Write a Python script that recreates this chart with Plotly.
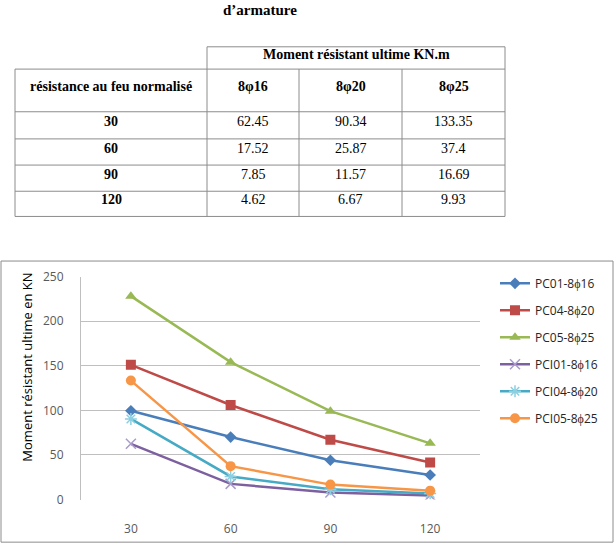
import plotly.graph_objects as go

W, H = 615, 555

# ---------------- data ----------------
title_fragment = "d’armature"
table_header = "Moment résistant ultime KN.m"
table_row_header = "résistance au feu normalisé"
table_cols = ["8φ16", "8φ20", "8φ25"]
table_rows = ["30", "60", "90", "120"]
table_col16 = [62.45, 17.52, 7.85, 4.62]
table_col20 = [90.34, 25.87, 11.57, 6.67]
table_col25 = [133.35, 37.4, 16.69, 9.93]

categories = ["30", "60", "90", "120"]
pc01_8f16 = [99.5, 70, 44, 27.5]
pc04_8f20 = [151, 106, 67, 41.5]
pc05_8f25 = [228, 154, 99, 63]
pci01_8f16 = [62.45, 17.52, 7.85, 4.62]
pci04_8f20 = [90.34, 25.87, 11.57, 6.67]
pci05_8f25 = [133.35, 37.4, 16.69, 9.93]
series_names = ["PC01-8ϕ16", "PC04-8ϕ20", "PC05-8ϕ25",
                "PCI01-8ϕ16", "PCI04-8ϕ20", "PCI05-8ϕ25"]
y_title = "Moment résistant ultime en KN"
y_ticks = [0, 50, 100, 150, 200, 250]


def px(x):
    return x / W


def py(y):
    return 1 - y / H


fig = go.Figure()

styles = [
    dict(color="#4A7EBB", symbol="diamond", size=9, mcolor="#4A7EBB", mline=0),
    dict(color="#BE4B48", symbol="square", size=10, mcolor="#BE4B48", mline=0),
    dict(color="#98B954", symbol="triangle-up", size=10, mcolor="#98B954", mline=0),
    dict(color="#7D60A0", symbol="x-thin-open", size=10, mcolor="#A99BCB", mline=1.5),
    dict(color="#46AAC5", symbol="asterisk-open", size=10, mcolor="#8CCFE0", mline=1.5),
    dict(color="#F79646", symbol="circle", size=10, mcolor="#F79646", mline=0),
]
series = [pc01_8f16, pc04_8f20, pc05_8f25, pci01_8f16, pci04_8f20, pci05_8f25]

for name, vals, st in zip(series_names, series, styles):
    fig.add_trace(go.Scatter(
        x=categories, y=vals, name=name, mode="lines+markers",
        legendgroup=name,
        line=dict(color=st["color"], width=2.5),
        marker=dict(symbol=st["symbol"], size=st["size"], color=st["mcolor"],
                    line=dict(width=st["mline"], color=st["mcolor"])),
    ))

shapes = []
annotations = []

# chart border
shapes.append(dict(type="rect", xref="paper", yref="paper",
                   x0=px(1), x1=px(613), y0=py(550), y1=py(260),
                   line=dict(color="#8C8C8C", width=1)))

# ---------------- table ----------------
tcol = "#8C8C8C"
col_x = [15, 207, 299, 402, 505]
row_y = [39, 62, 106, 134, 161, 188, 214]


def hline(x0, x1, y):
    shapes.append(dict(type="line", xref="paper", yref="paper",
                       x0=px(x0), x1=px(x1), y0=py(y), y1=py(y),
                       line=dict(color=tcol, width=1)))


def vline(x, y0, y1):
    shapes.append(dict(type="line", xref="paper", yref="paper",
                       x0=px(x), x1=px(x), y0=py(y0), y1=py(y1),
                       line=dict(color=tcol, width=1)))


hline(col_x[1], col_x[4], row_y[0])
for y in row_y[1:]:
    hline(col_x[0], col_x[4], y)
vline(col_x[0], row_y[1], row_y[-1])
vline(col_x[1], row_y[0], row_y[-1])
vline(col_x[4], row_y[0], row_y[-1])
for x in col_x[2:4]:
    vline(x, row_y[1], row_y[-1])

TEXT_SHIFT = 4  # compensate annotation baseline offset


def text(x, y, s, bold=False, size=14, family="Liberation Serif", color="#000"):
    annotations.append(dict(xref="paper", yref="paper", x=px(x), y=py(y - TEXT_SHIFT),
                            text=f"<b>{s}</b>" if bold else s, showarrow=False,
                            xanchor="center", yanchor="middle",
                            font=dict(family=family, size=size, color=color)))


text(260, 5, title_fragment, bold=True, size=15)
text((col_x[1] + col_x[4]) / 2, (row_y[0] + row_y[1]) / 2, table_header, bold=True)
text((col_x[0] + col_x[1]) / 2, (row_y[1] + row_y[2]) / 2, table_row_header, bold=True)
for i, c in enumerate(table_cols):
    text((col_x[i + 1] + col_x[i + 2]) / 2, (row_y[1] + row_y[2]) / 2, c, bold=True)
cols_vals = [table_col16, table_col20, table_col25]
for r, lab in enumerate(table_rows):
    yc = (row_y[r + 2] + row_y[r + 3]) / 2
    text((col_x[0] + col_x[1]) / 2, yc, lab, bold=True)
    for c in range(3):
        text((col_x[c + 1] + col_x[c + 2]) / 2, yc, str(cols_vals[c][r]))

# y axis title as annotation
annotations.append(dict(xref="paper", yref="paper", x=px(27), y=py(370),
                        text=y_title, textangle=-90, showarrow=False,
                        xanchor="center", yanchor="middle",
                        font=dict(family="Open Sans", size=13, color="#000")))

fig.update_layout(
    width=W, height=H,
    margin=dict(l=0, r=0, t=0, b=0),
    paper_bgcolor="white", plot_bgcolor="white",
    shapes=shapes, annotations=annotations,
    showlegend=True,
    legend=dict(x=px(495), y=py(268), xanchor="left", yanchor="top",
                font=dict(family="Open Sans", size=12, color="#262626"),
                tracegroupgap=8, itemwidth=30, bgcolor="rgba(0,0,0,0)"),
    xaxis=dict(domain=[px(81), px(480)], type="category",
               range=[-0.5, 3.5], showgrid=False, zeroline=False,
               showline=False, ticks="",
               tickfont=dict(family="Open Sans", size=12, color="#595959"),
               ticklabelstandoff=20),
    yaxis=dict(domain=[py(506), py(276)], range=[0, 250],
               tickvals=y_ticks, showgrid=True, gridcolor="#BFBFBF",
               gridwidth=1, zeroline=False, showline=True,
               linecolor="#BFBFBF", linewidth=1, ticks="",
               tickfont=dict(family="Open Sans", size=12, color="#595959"),
               ticklabelstandoff=14),
)

fig.write_html("out.html")
